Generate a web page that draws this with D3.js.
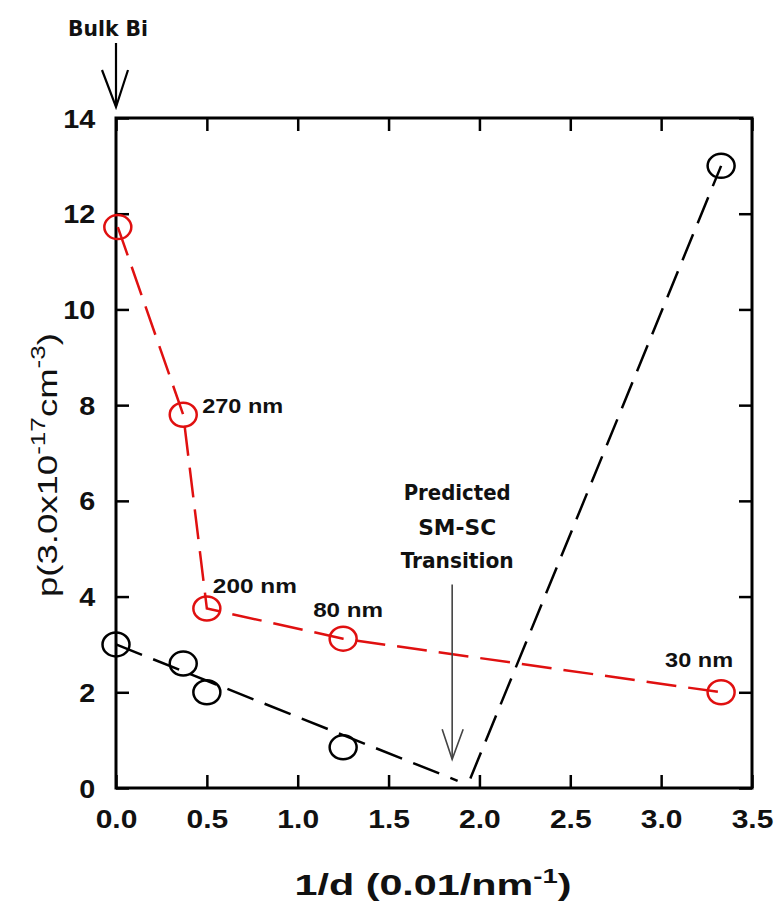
<!DOCTYPE html>
<html><head><meta charset="utf-8">
<script src="https://cdn.jsdelivr.net/npm/d3@7"></script>
<style>html,body{margin:0;padding:0;background:#fff;}</style>
</head><body>
<svg id="chart" width="778" height="904"></svg>
<script>
// ---- data ----
const xTicks = [0, 0.5, 1.0, 1.5, 2.0, 2.5, 3.0, 3.5];
const yTicks = [0, 2, 4, 6, 8, 10, 12, 14];
const redX = [0.01, 0.37, 0.5, 1.25, 3.33];
const redY = [11.72, 7.8, 3.75, 3.12, 2.0];
const redLabels = ["", "270 nm", "200 nm", "80 nm", "30 nm"];
const blackX = [0.0, 0.37, 0.5, 1.25, 3.33];
const blackY = [3.0, 2.6, 2.0, 0.85, 13.0];
const fit1X = [0.0, 1.88];
const fit1Y = [3.0, 0.15];
const fit2X = [1.95, 3.33];
const fit2Y = [0.2, 13.0];
const transitionX = 1.85;
const transitionY = [4.25, 0.6];

// ---- layout ----
const L = 116, R = 752, T = 118, B = 788;
const svg = d3.select("#chart");
const x = d3.scaleLinear().domain([0, 3.5]).range([L, R]);
const y = d3.scaleLinear().domain([0, 14]).range([B, T]);

const tickFont = "'Liberation Sans', Arial, sans-serif";
const annFont = "'DejaVu Sans Condensed', 'DejaVu Sans', sans-serif";

// axes with inward ticks
function styleAxis(g) {
  g.select(".domain").remove();
  g.selectAll(".tick line").attr("stroke", "#000").attr("stroke-width", 2.5);
}
svg.append("g").attr("transform", `translate(0,${B})`)
  .call(d3.axisBottom(x).tickValues(xTicks).tickSizeInner(-13).tickSizeOuter(0).tickFormat(d3.format(".1f")))
  .call(styleAxis)
  .call(g => g.selectAll(".tick text")
    .attr("y", 40).attr("dy", 0)
    .attr("font-family", tickFont).attr("font-weight", "bold").attr("font-size", 25)
    .attr("fill", "#111")
    .attr("transform", "scale(1.2,1)"));
svg.append("g").attr("transform", `translate(0,${T})`)
  .call(d3.axisTop(x).tickValues(xTicks).tickSizeInner(-13).tickSizeOuter(0).tickFormat(""))
  .call(styleAxis);
svg.append("g").attr("transform", `translate(${L},0)`)
  .call(d3.axisLeft(y).tickValues(yTicks).tickSizeInner(-13).tickSizeOuter(0).tickFormat(d3.format("d")))
  .call(styleAxis)
  .call(g => g.selectAll(".tick text")
    .attr("x", -18).attr("dy", "0.36em")
    .attr("font-family", tickFont).attr("font-weight", "bold").attr("font-size", 25)
    .attr("fill", "#111")
    .attr("transform", "scale(1.15,1)"));
svg.append("g").attr("transform", `translate(${R},0)`)
  .call(d3.axisRight(y).tickValues(yTicks).tickSizeInner(-13).tickSizeOuter(0).tickFormat(""))
  .call(styleAxis);

// frame
svg.append("rect").attr("x", L).attr("y", T).attr("width", R - L).attr("height", B - T)
  .attr("fill", "none").attr("stroke", "#000").attr("stroke-width", 3);

const line = d3.line().x(d => x(d[0])).y(d => y(d[1]));

// black fit lines
svg.append("path").datum(d3.zip(fit1X, fit1Y)).attr("d", line)
  .attr("fill", "none").attr("stroke", "#000").attr("stroke-width", 2.5).attr("stroke-dasharray", "28,12");
svg.append("path").datum(d3.zip(fit2X, fit2Y)).attr("d", line)
  .attr("fill", "none").attr("stroke", "#000").attr("stroke-width", 2.5).attr("stroke-dasharray", "28,12");

// red connecting line
svg.append("path").datum(d3.zip(redX, redY)).attr("d", line)
  .attr("fill", "none").attr("stroke", "#e01010").attr("stroke-width", 2.5).attr("stroke-dasharray", "30,12");

// markers
svg.append("g").selectAll("ellipse").data(d3.zip(blackX, blackY)).join("ellipse")
  .attr("cx", d => x(d[0])).attr("cy", d => y(d[1])).attr("rx", 13.5).attr("ry", 12)
  .attr("fill", "none").attr("stroke", "#000").attr("stroke-width", 2.5);
svg.append("g").selectAll("ellipse").data(d3.zip(redX, redY)).join("ellipse")
  .attr("cx", d => x(d[0])).attr("cy", d => y(d[1])).attr("rx", 13.5).attr("ry", 12)
  .attr("fill", "none").attr("stroke", "#e01010").attr("stroke-width", 2.5);

// point labels
const labelOffsets = [[0, 0], [19, -2], [6, -16], [-30, -22], [-56, -25]];
const labelWidths = [0, 81, 84, 70, 68];
redLabels.forEach((t, i) => {
  if (!t) return;
  svg.append("text")
    .attr("x", x(redX[i]) + labelOffsets[i][0]).attr("y", y(redY[i]) + labelOffsets[i][1])
    .attr("font-family", tickFont).attr("font-weight", "bold").attr("font-size", 20)
    .attr("fill", "#111")
    .attr("textLength", labelWidths[i]).attr("lengthAdjust", "spacingAndGlyphs")
    .text(t);
});

// transition annotation
const tx = x(transitionX);
const ty0 = y(transitionY[0]), ty1 = y(transitionY[1]);
svg.append("line").attr("x1", tx).attr("x2", tx).attr("y1", ty0).attr("y2", ty1)
  .attr("stroke", "#444").attr("stroke-width", 1.6);
svg.append("path").attr("d", `M${tx - 10},${ty1 - 30}L${tx},${ty1}L${tx + 11},${ty1 - 30}`)
  .attr("fill", "none").attr("stroke", "#444").attr("stroke-width", 1.6);
[["Predicted", 500, 107], ["SM-SC", 535, 78], ["Transition", 568, 113]].forEach(([t, by, w]) => {
  svg.append("text").attr("x", tx + 5).attr("y", by).attr("text-anchor", "middle")
    .attr("font-family", annFont).attr("font-weight", "bold").attr("font-size", 21)
    .attr("fill", "#111")
    .attr("textLength", w).attr("lengthAdjust", "spacingAndGlyphs")
    .text(t);
});

// Bulk Bi annotation
const bx = x(0);
svg.append("text").attr("x", bx - 8).attr("y", 36).attr("text-anchor", "middle")
  .attr("font-family", annFont).attr("font-weight", "bold").attr("font-size", 21)
  .attr("fill", "#111").attr("textLength", 80).attr("lengthAdjust", "spacingAndGlyphs")
  .text("Bulk Bi");
svg.append("line").attr("x1", bx).attr("x2", bx).attr("y1", 43).attr("y2", 106)
  .attr("stroke", "#000").attr("stroke-width", 2.2);
svg.append("path").attr("d", `M${bx - 14},70L${bx},107L${bx + 12},70`)
  .attr("fill", "none").attr("stroke", "#000").attr("stroke-width", 2.2);

// x axis title
const xt = svg.append("text").attr("x", 433).attr("y", 895).attr("text-anchor", "middle")
  .attr("font-family", tickFont).attr("font-weight", "bold").attr("font-size", 30)
  .attr("fill", "#111").attr("textLength", 277).attr("lengthAdjust", "spacingAndGlyphs");
xt.append("tspan").text("1/d (0.01/nm");
xt.append("tspan").attr("dy", -12).attr("font-size", 20).text("-1");
xt.append("tspan").attr("dy", 12).text(")");

// y axis title
const yt = svg.append("text").attr("transform", "translate(57,465) rotate(-90)")
  .attr("text-anchor", "middle")
  .attr("font-family", tickFont).attr("font-size", 28)
  .attr("fill", "#111").attr("textLength", 264).attr("lengthAdjust", "spacingAndGlyphs");
yt.append("tspan").text("p(3.0x10");
yt.append("tspan").attr("dy", -12).attr("font-size", 20).text("-17");
yt.append("tspan").attr("dy", 12).text("cm");
yt.append("tspan").attr("dy", -12).attr("font-size", 20).text("-3");
yt.append("tspan").attr("dy", 12).text(")");
</script>
</body></html>
